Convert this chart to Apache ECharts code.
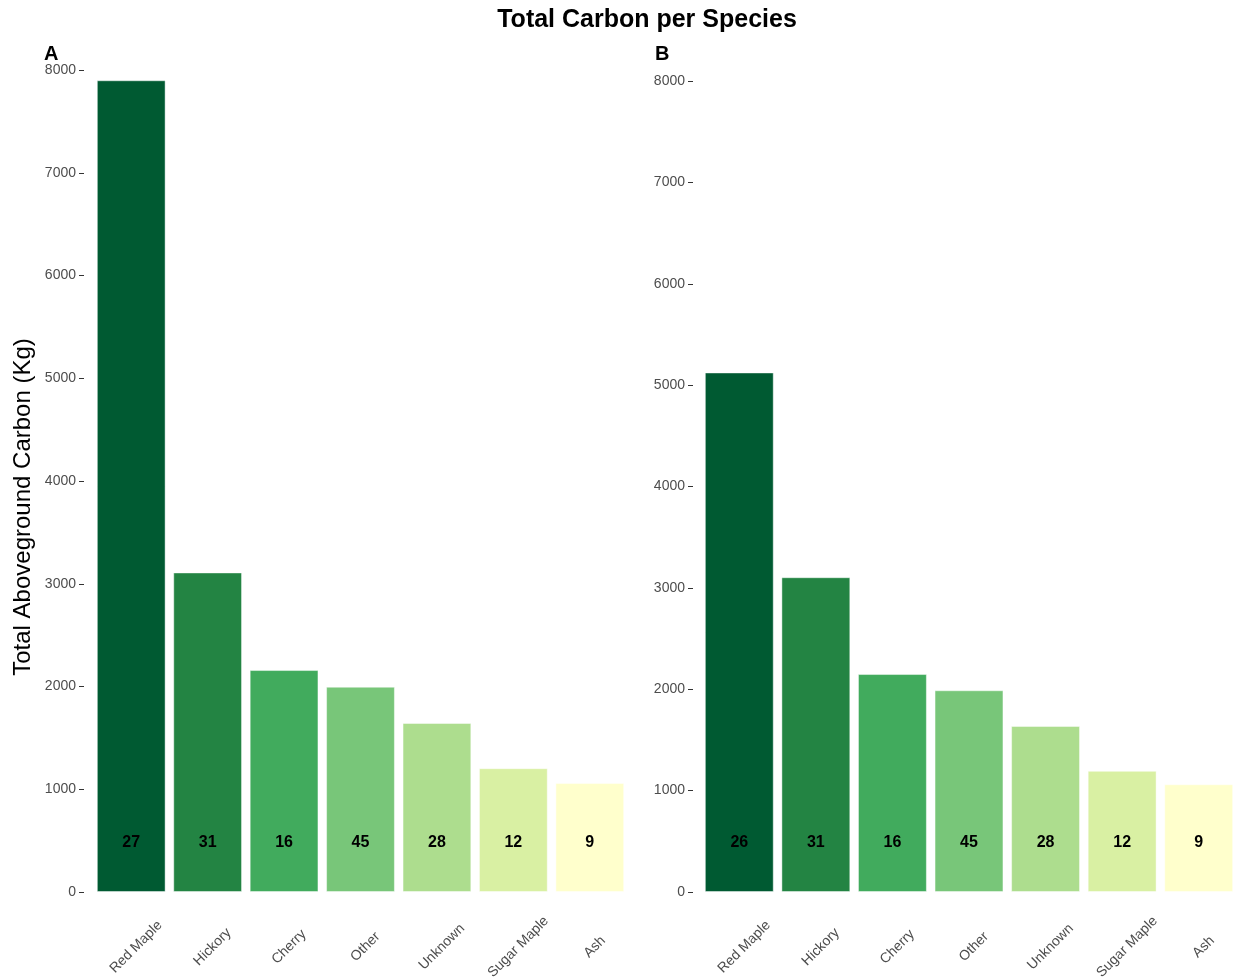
<!DOCTYPE html>
<html>
<head>
<meta charset="utf-8">
<script src="https://cdn.jsdelivr.net/npm/echarts@6/dist/echarts.min.js"></script>
<style>
  html, body { margin: 0; padding: 0; background: #fff; }
  #chart { width: 1239px; height: 980px; }
</style>
</head>
<body>
<div id="chart"></div>
<script>
// Species in plotting order
const species = ['Red Maple', 'Hickory', 'Cherry', 'Other', 'Unknown', 'Sugar Maple', 'Ash'];

// Panel A: total aboveground carbon (kg) and tree counts
const carbonA = [7900, 3110, 2160, 1998, 1645, 1205, 1060];
const countsA = [27, 31, 16, 45, 28, 12, 9];

// Panel B: total aboveground carbon (kg) and tree counts
const carbonB = [5125, 3105, 2150, 1990, 1638, 1195, 1063];
const countsB = [26, 31, 16, 45, 28, 12, 9];

// Y axis ticks
const yTicks = [0, 1000, 2000, 3000, 4000, 5000, 6000, 7000, 8000];

// YlGn fill per species
const fills = ['#005A32', '#238443', '#41AB5D', '#78C679', '#ADDD8E', '#D9F0A3', '#FFFFCC'];

const FONT = '"Liberation Sans", Arial, sans-serif';

function barData(values, counts) {
  return values.map((v, i) => ({
    value: v,
    count: counts[i],
    itemStyle: { color: fills[i] }
  }));
}

function xAxisCfg(gridIndex) {
  return {
    type: 'category',
    gridIndex: gridIndex,
    data: species,
    axisLine: { show: false },
    axisTick: { show: false },
    axisLabel: {
      rotate: 45,
      align: 'center',
      verticalAlign: 'top',
      margin: 50,
      interval: 0,
      color: '#4d4d4d',
      fontFamily: FONT,
      fontSize: 14
    }
  };
}

function yAxisCfg(gridIndex, offset) {
  return {
    type: 'value',
    gridIndex: gridIndex,
    min: yTicks[0],
    max: yTicks[yTicks.length - 1],
    interval: 1000,
    offset: offset,
    splitLine: { show: false },
    axisLine: { show: false },
    axisTick: { show: true, length: 5, lineStyle: { color: '#333' } },
    axisLabel: {
      color: '#4d4d4d',
      fontFamily: FONT,
      fontSize: 14,
      margin: 8,
      formatter: v => String(v)
    }
  };
}

function barSeries(idx, values, counts) {
  return {
    type: 'bar',
    xAxisIndex: idx,
    yAxisIndex: idx,
    data: barData(values, counts),
    barCategoryGap: '10%',
    itemStyle: { borderColor: 'rgba(255,255,255,0.45)', borderWidth: 1 },
    label: {
      show: true,
      position: 'insideBottom',
      distance: 41,
      formatter: p => String(p.data.count),
      color: '#000',
      fontFamily: FONT,
      fontWeight: 'bold',
      fontSize: 16
    },
    emphasis: { disabled: true },
    silent: true
  };
}

const chart = echarts.init(document.getElementById('chart'), null, { renderer: 'canvas' });

chart.setOption({
  animation: false,
  backgroundColor: '#ffffff',
  title: [
    {
      text: 'Total Carbon per Species',
      left: 642, top: 3, textAlign: 'center',
      textStyle: { fontFamily: FONT, fontWeight: 'bold', fontSize: 25, color: '#000' }
    },
    {
      text: 'A', left: 39, top: 39,
      textStyle: { fontFamily: FONT, fontWeight: 'bold', fontSize: 20, color: '#000' }
    },
    {
      text: 'B', left: 650, top: 39,
      textStyle: { fontFamily: FONT, fontWeight: 'bold', fontSize: 20, color: '#000' }
    }
  ],
  graphic: [
    {
      type: 'text',
      rotation: Math.PI / 2,
      x: 23, y: 507,
      style: {
        text: 'Total Aboveground Carbon (Kg)',
        fill: '#000',
        font: '24px ' + FONT,
        align: 'center',
        verticalAlign: 'middle'
      }
    }
  ],
  grid: [
    { left: 93, right: 611, top: 70, bottom: 88, outerBoundsMode: 'none' },
    { left: 701, right: 2, top: 81, bottom: 88, outerBoundsMode: 'none' }
  ],
  xAxis: [xAxisCfg(0), xAxisCfg(1)],
  yAxis: [yAxisCfg(0, 9), yAxisCfg(1, 8)],
  series: [
    barSeries(0, carbonA, countsA),
    barSeries(1, carbonB, countsB)
  ]
});
</script>
</body>
</html>
